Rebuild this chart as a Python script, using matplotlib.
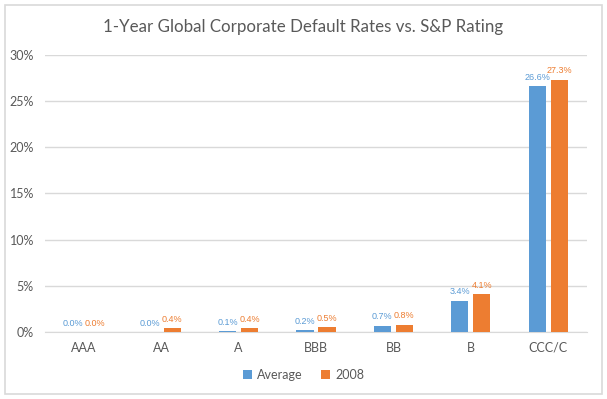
import matplotlib.pyplot as plt
import numpy as np

categories = ['AAA', 'AA', 'A', 'BBB', 'BB', 'B', 'CCC/C']
average = [0.0, 0.0, 0.1, 0.2, 0.7, 3.4, 26.6]
y2008 = [0.0, 0.4, 0.4, 0.5, 0.8, 4.1, 27.3]

blue = '#5B9BD5'
orange = '#ED7D31'
grey = '#595959'

plt.rcParams['font.family'] = ['Lato', 'DejaVu Sans']

W, H = 607, 399
fig = plt.figure(figsize=(W / 100, H / 100), dpi=100)
ax = fig.add_axes([45 / W, 1 - 332 / H, 542 / W, (332 - 54.7) / H])

# light border around the whole chart
fig.patches.append(plt.Rectangle((5 / W, 1 - 394 / H), 597 / W, 389 / H,
                                 transform=fig.transFigure,
                                 fill=False, edgecolor='#D9D9D9', linewidth=1.2))

x = np.arange(len(categories))
w = 0.22
off = 0.142
b1 = ax.bar(x - off, average, w, color=blue, label='Average', zorder=3)
b2 = ax.bar(x + off, y2008, w, color=orange, label='2008', zorder=3)

for bars, vals, c in [(b1, average, blue), (b2, y2008, orange)]:
    for rect, v in zip(bars, vals):
        ax.annotate(f'{v:.1f}%', (rect.get_x() + rect.get_width() / 2, v),
                    xytext=(0, 3), textcoords='offset points',
                    ha='center', va='bottom', fontsize=6.5, color=c,
                    family=['Liberation Sans', 'DejaVu Sans'])

ax.set_xlim(-0.5, len(categories) - 0.5)
ax.set_ylim(0, 30)
ax.set_yticks(range(0, 31, 5))
ax.set_yticklabels([f'{t}%' for t in range(0, 31, 5)])
ax.set_xticks(x)
ax.set_xticklabels(categories)
ax.tick_params(axis='both', length=0, labelsize=9, labelcolor=grey)
ax.tick_params(axis='y', pad=8)
ax.tick_params(axis='x', pad=7)
ax.grid(axis='y', color='#D9D9D9', linewidth=1, zorder=0)
for s in ['top', 'right', 'left']:
    ax.spines[s].set_visible(False)
ax.spines['bottom'].set_color('#D9D9D9')

fig.text(0.5, 1 - 27 / H, '1-Year Global Corporate Default Rates vs. S&P Rating',
         ha='center', va='center', fontsize=12.2, color=grey)

fig.legend(loc='center', bbox_to_anchor=(0.5, 1 - 375 / H), ncol=2, frameon=False,
           fontsize=9, labelcolor=grey, handlelength=0.7, handleheight=0.7,
           columnspacing=1.5, handletextpad=0.4)

fig.savefig('out.png', dpi=100)
